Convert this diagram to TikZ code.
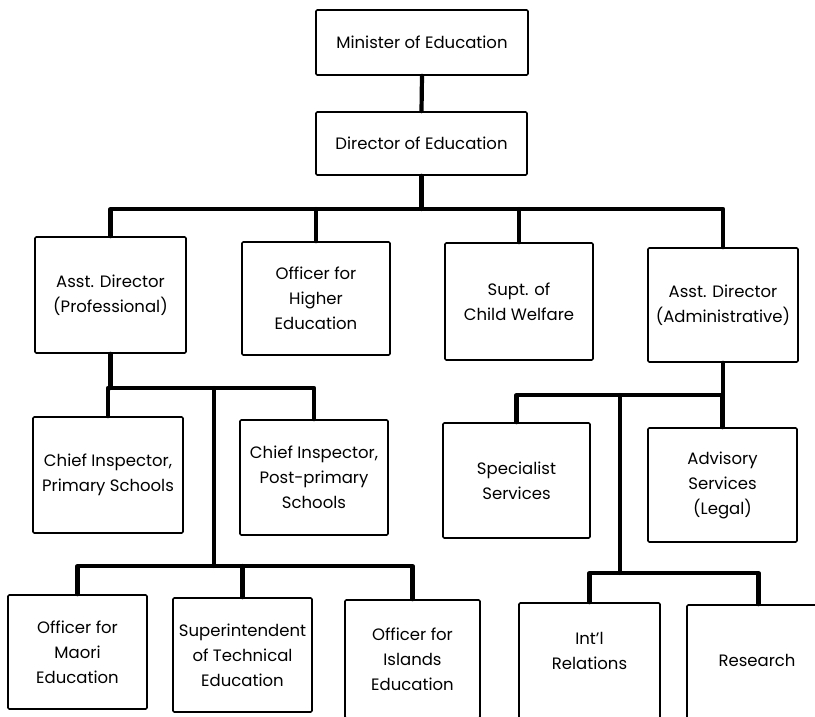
\documentclass[tikz,border=0pt]{standalone}
\usepackage{fontspec}
\setmainfont{Poppins}
\begin{document}
\begin{tikzpicture}[x=1pt,y=-1pt,
  box/.style={draw=black, line width=1.6pt, rounded corners=1.2pt, align=center,
    font=\fontsize{16.5}{25}\selectfont, inner sep=0pt},
  lbl/.style={align=center, font=\fontsize{16.5}{25}\selectfont, inner sep=0pt},
  conn/.style={line width=4.2pt, line cap=round, line join=round}]
\useasboundingbox[fill=white] (0,0) rectangle (815,716);
% level 0-1
\node[box, minimum width=212, minimum height=65] (min) at (422,42.5) {Minister of Education};
\node[box, minimum width=211, minimum height=63] (dir) at (421.5,143.5) {Director of Education};
% level 2
\node[box, minimum width=151, minimum height=116] (adp) at (110.5,295) {Asst. Director\\(Professional)};
\node[box, minimum width=148, minimum height=113] (ohe) at (316,298.5) {Officer for\\Higher\\Education};
\node[box, minimum width=148, minimum height=117] (scw) at (519,301.5) {Supt. of\\Child Welfare};
\node[box, minimum width=150, minimum height=114] (ada) at (723,305) {Asst. Director\\(Administrative)};
% level 3
\node[box, minimum width=150, minimum height=116] (cpr) at (108,475) {Chief Inspector,\\Primary Schools};
\node[box, minimum width=148, minimum height=115] (cpp) at (314,477.5) {Chief Inspector,\\Post-primary\\Schools};
\node[box, minimum width=147, minimum height=115] (spe) at (516.5,480.5) {Specialist\\Services};
\node[box, minimum width=149, minimum height=114] (adv) at (722.5,485) {Advisory\\Services\\(Legal)};
% level 4
\node[box, minimum width=139, minimum height=114] (mao) at (77.5,652) {Officer for\\Maori\\Education};
\node[box, minimum width=139, minimum height=114] (sup) at (242.5,655) {Superintendent\\of Technical\\Education};
\node[box, minimum width=135, minimum height=118] (isl) at (412.5,659) {Officer for\\Islands\\Education};
\node[box, minimum width=141, minimum height=127] (itl) at (589.5,666.5) {};
\node[lbl] (itlt) at (589.5,651) {Int'l\\Relations};
\node[box, minimum width=143, minimum height=125] (res) at (758.5,667.5) {};
\node[lbl] (rest) at (757,660) {Research};
% junction coordinates
\coordinate (b1) at (0,209);
\coordinate (b2) at (0,388);
\coordinate (b3) at (0,395);
\coordinate (j1) at (214,388);
\coordinate (j2) at (214,566);
\coordinate (j3) at (620,395);
\coordinate (j4) at (620,573);
% connectors
\draw[conn] (min.south) -- (dir.north);
\draw[conn] (dir.south) -- (dir.south |- b1);
\draw[conn] (adp.north) -- (adp.north |- b1) -- (ada.north |- b1) -- (ada.north);
\draw[conn] (ohe.north) -- (ohe.north |- b1);
\draw[conn] (scw.north) -- (scw.north |- b1);
\draw[conn] (adp.south) -- (adp.south |- b2);
\draw[conn] (cpr.north) -- (cpr.north |- b2) -- (cpp.north |- b2) -- (cpp.north);
\draw[conn] (j1) -- (j2);
\draw[conn] (mao.north) -- (mao.north |- j2) -- (isl.north |- j2) -- (isl.north);
\draw[conn] (sup.north) -- (sup.north |- j2);
\draw[conn] (ada.south) -- (ada.south |- b3);
\draw[conn] (spe.north) -- (spe.north |- b3) -- (adv.north |- b3) -- (adv.north);
\draw[conn] (j3) -- (j4);
\draw[conn] (itl.north) -- (itl.north |- j4) -- (res.north |- j4) -- (res.north);
\end{tikzpicture}
\end{document}
